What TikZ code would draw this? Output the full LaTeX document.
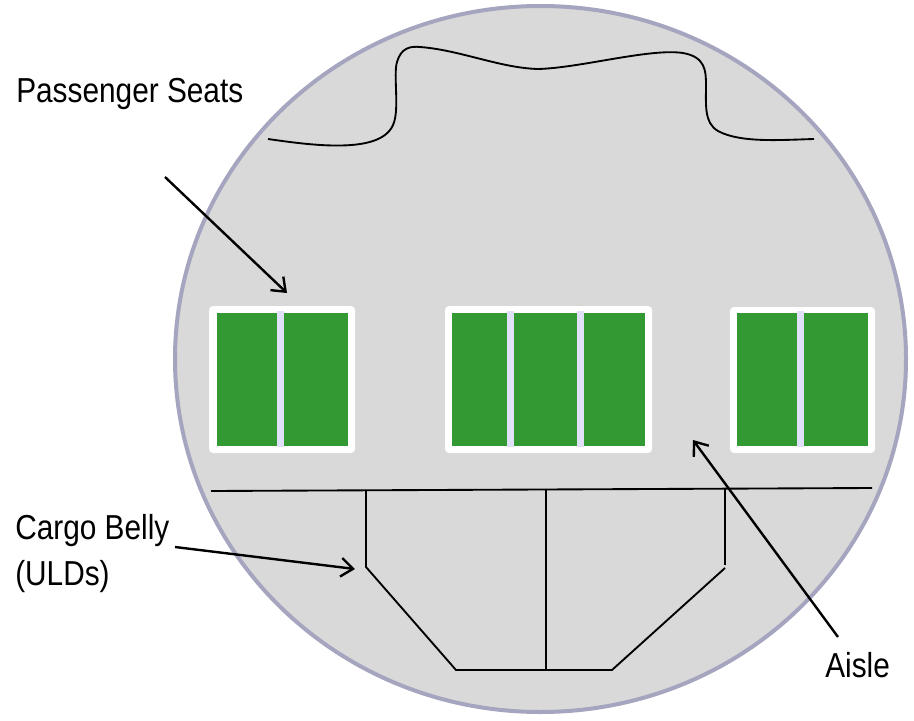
\documentclass[tikz,border=0pt]{standalone}
\usepackage{fontspec}
\setmainfont[FakeStretch=0.86]{Liberation Sans}
\usepackage{xcolor}
\usepackage{tikz}
\usetikzlibrary{arrows.meta}

\definecolor{hullgray}{HTML}{D9D9D9}
\definecolor{hullrim}{HTML}{A5A5BF}
\definecolor{seatgreen}{HTML}{339933}
\definecolor{gaplav}{HTML}{E0E0F8}

\begin{document}
\begin{tikzpicture}[x=0.75pt,y=-0.75pt,
  >={Straight Barb[length=9pt,width=14pt]},
  callout/.style={font=\fontsize{26}{34}\selectfont,inner sep=0pt,anchor=base west},
  pointer/.style={->,line width=1.8pt},
  seat frame/.style={fill=white,rounded corners=3},
  seat row/.style={fill=seatgreen},
  seat gap/.style={fill=gaplav},
  deck line/.style={line width=1.4pt}]

  \useasboundingbox (0,0) rectangle (914,721);

  % fuselage
  \draw[fill=hullgray,draw=hullrim,line width=3pt]
    (540.5,359) ellipse [x radius=365.5,y radius=353];

  % upper deck
  \draw[deck line] (268,139) .. controls (310,145) and (380,155) .. (393,125)
    .. controls (400,110) and (393,75) .. (397,62)
    .. controls (401,48) and (410,46) .. (420,47)
    .. controls (460,50) and (500,68) .. (538,69)
    .. controls (580,68) and (650,48) .. (683,53)
    .. controls (705,57) and (706,70) .. (706,85)
    .. controls (706,105) and (704,123) .. (718,131)
    .. controls (740,143) and (780,140) .. (814,139);

  % seat blocks
  \fill[seat frame] (209,306) rectangle (355,453);
  \fill[seat frame] (445,306) rectangle (652,453);
  \fill[seat frame] (730,307) rectangle (875,453);
  \fill[seat row] (217,313) rectangle (348,446);
  \fill[seat row] (452,313) rectangle (645,446);
  \fill[seat row] (737,313) rectangle (868,446);
  \foreach \x in {280,510,580,800}
    \fill[seat gap] (\x-3.5,311) rectangle (\x+3.5,447);

  % main deck floor and cargo belly
  \draw[deck line] (211,491) -- (872,488);
  \draw[deck line] (366,490) -- (366,567) -- (456,670) -- (612,670) -- (725,568);
  \draw[deck line] (725,489) -- (725,565);
  \draw[deck line] (546,490) -- (546,670);

  % labels
  \node[callout] (seats) at (16,102) {Passenger Seats};
  \node[callout,align=left] (belly) at (15,585) {Cargo Belly\\(ULDs)};
  \node[callout] (aisle) at (825,677) {Aisle};

  \coordinate (seatsTail) at (165,177);
  \coordinate (seatsTip) at (287,293);
  \coordinate (bellyTail) at (175,547);
  \coordinate (bellyTip) at (355,569);
  \coordinate (aisleTail) at (838,637);
  \coordinate (aisleTip) at (693,440);

  \path[pointer]
    (seatsTail) edge (seatsTip)
    (bellyTail) edge (bellyTip)
    (aisleTail) edge (aisleTip);
\end{tikzpicture}
\end{document}
